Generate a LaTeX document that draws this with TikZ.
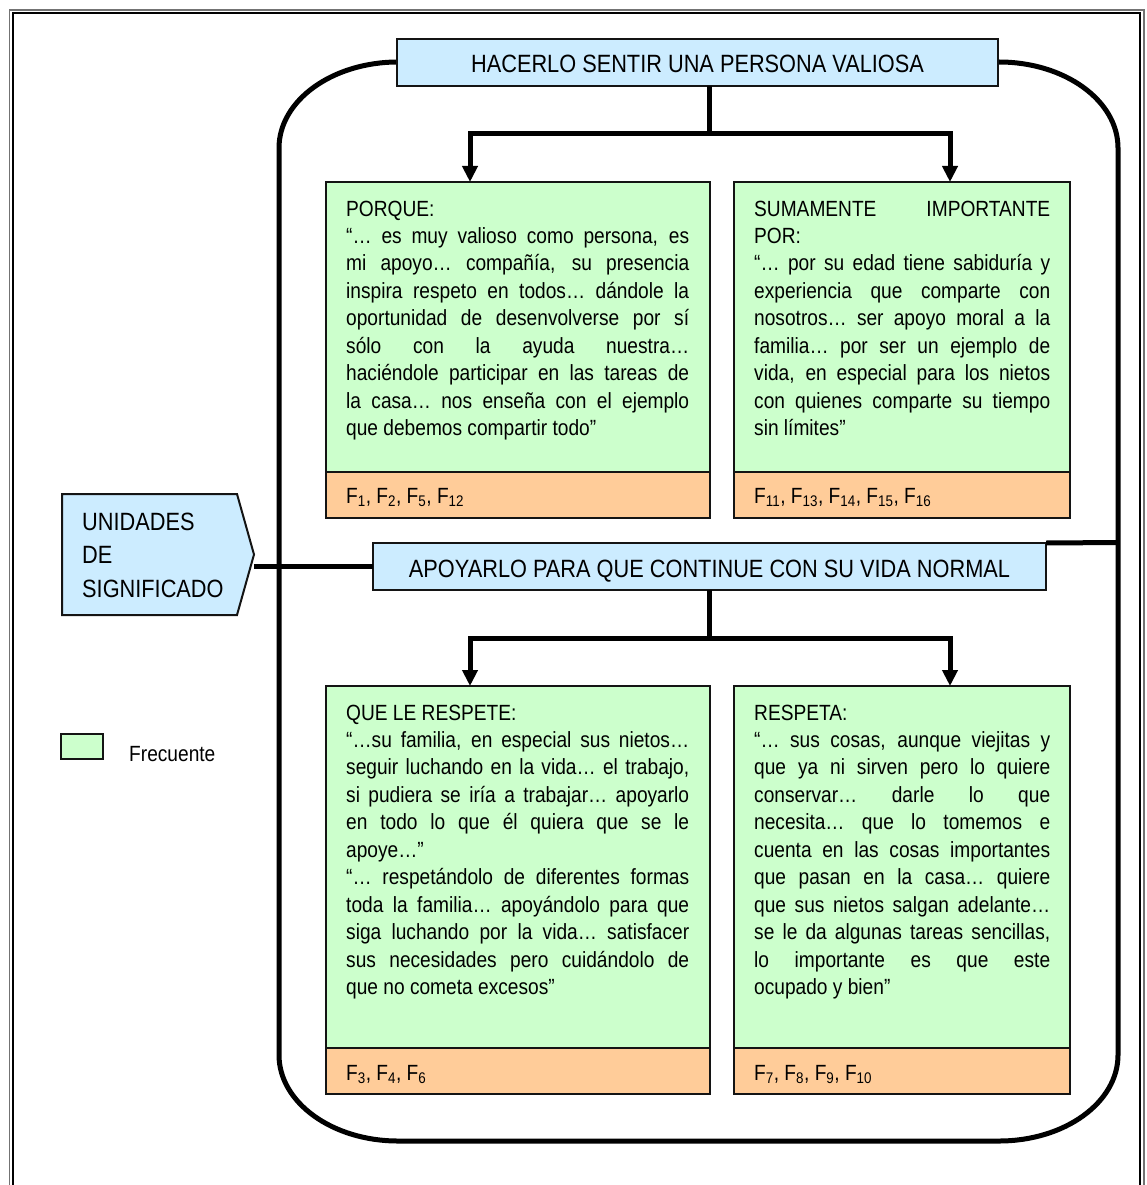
\documentclass[tikz,border=0pt]{standalone}
\usepackage{fontspec}
\setmainfont{Liberation Sans}[FakeStretch=0.87]
\usetikzlibrary{arrows.meta}
\definecolor{boxblue}{HTML}{CCECFF}
\definecolor{boxgreen}{HTML}{CCFFCC}
\definecolor{boxorange}{HTML}{FFCC99}
\definecolor{edge}{HTML}{141414}
\newcommand\bodyfont{\fontsize{22}{27.45}\selectfont}
\newcommand\headfont{\fontsize{25}{33.5}\selectfont}
\hyphenpenalty=10000
\exhyphenpenalty=10000
\tolerance=10000
\hbadness=10000
\begin{document}
\begin{tikzpicture}[x=1pt,y=-1pt,
  panel/.style={draw=edge, line width=2pt, inner sep=0pt, outer sep=0pt},
  headbox/.style={panel, fill=boxblue, font=\headfont, text height=21pt, text depth=0pt},
  quotebox/.style={panel, fill=boxgreen, anchor=north west, minimum width=384pt, minimum height=290pt},
  quotebox2/.style={quotebox, minimum width=336pt},
  codebox/.style={panel, fill=boxorange, anchor=north west, minimum width=384pt, minimum height=46pt},
  codebox2/.style={codebox, minimum width=336pt},
  quote/.style={anchor=base west, inner sep=0pt, text width=343pt, align=justify, font=\bodyfont},
  quote2/.style={quote, text width=296pt},
  codes/.style={anchor=base west, inner sep=0pt, font=\bodyfont},
  conn/.style={line width=5pt, draw=black},
  arr/.style={conn, -{Triangle[width=15pt,length=16pt]}}
]
\useasboundingbox (0,0) rectangle (1147,1185);

% page frame (open at the bottom)
\draw[line width=1.6pt, color=black!55] (9.5,10) rectangle (1143.8,1220);
\draw[line width=2pt, color=black] (12.5,13) rectangle (1140.3,1220);

% rounded container with elliptical corners
\draw[line width=5pt] (398,62) -- (999,62)
  .. controls (1064.7,62) and (1118,100.5) .. (1118,148)
  -- (1118,1055)
  .. controls (1118,1102.5) and (1064.7,1141) .. (999,1141)
  -- (398,1141)
  .. controls (332.3,1141) and (279,1102.5) .. (279,1055)
  -- (279,148)
  .. controls (279,100.5) and (332.3,62) .. (398,62) -- cycle;

% branch points
\coordinate (j1) at (709,134);
\coordinate (j1l) at (470,134);
\coordinate (j1r) at (950,134);
\coordinate (j2) at (709,638);
\coordinate (j2l) at (470,638);
\coordinate (j2r) at (950,638);
\coordinate (rside) at (1118,542.5);
\coordinate (unitip) at (254,566.5);

% heading boxes
\node[headbox, minimum width=601pt, minimum height=47pt] (h1) at (697.5,62.5)
  {HACERLO SENTIR UNA PERSONA VALIOSA};
\node[headbox, minimum width=673pt, minimum height=47pt] (h2) at (709.5,566.5)
  {APOYARLO PARA QUE CONTINUE CON SU VIDA NORMAL};

% quote boxes with their source bands
\node[quotebox] (b1) at (326,182) {};
\node[codebox] (c1) at (326,472) {};
\node[quotebox2] (b2) at (734,182) {};
\node[codebox2] (c2) at (734,472) {};
\node[quotebox, minimum height=362pt] (b3) at (326,686) {};
\node[codebox] (c3) at (326,1048) {};
\node[quotebox2, minimum height=362pt] (b4) at (734,686) {};
\node[codebox2] (c4) at (734,1048) {};

% connectors
\draw[conn] (h1.south -| j1) -- (j1);
\draw[arr] (j1) -| (j1l |- b1.north);
\draw[arr] (j1) -| (j1r |- b2.north);
\draw[conn] (h2.south -| j2) -- (j2);
\draw[arr] (j2) -| (j2l |- b3.north);
\draw[arr] (j2) -| (j2r |- b4.north);
\draw[conn] (h2.north east) -- (rside);
\draw[conn] (unitip) -- (h2.west);

% quote texts
\node[quote] (q1) at (346,216) {PORQUE:\\
“… es muy valioso como persona, es\linebreak
mi apoyo… compañía, su presencia\linebreak
inspira respeto en todos… dándole la\linebreak
oportunidad de desenvolverse por sí\linebreak
sólo con la ayuda nuestra…\linebreak
haciéndole participar en las tareas de\linebreak
la casa… nos enseña con el ejemplo\linebreak
que debemos compartir todo”};
\node[quote2] (q2) at (754,216) {SUMAMENTE IMPORTANTE\linebreak
POR:\\
“… por su edad tiene sabiduría y\linebreak
experiencia que comparte con\linebreak
nosotros… ser apoyo moral a la\linebreak
familia… por ser un ejemplo de\linebreak
vida, en especial para los nietos\linebreak
con quienes comparte su tiempo\linebreak
sin límites”};
\node[quote] (q3) at (346,720) {QUE LE RESPETE:\\
“…su familia, en especial sus nietos…\linebreak
seguir luchando en la vida… el trabajo,\linebreak
si pudiera se iría a trabajar… apoyarlo\linebreak
en todo lo que él quiera que se le\linebreak
apoye…”\\
“… respetándolo de diferentes formas\linebreak
toda la familia… apoyándolo para que\linebreak
siga luchando por la vida… satisfacer\linebreak
sus necesidades pero cuidándolo de\linebreak
que no cometa excesos”};
\node[quote2] (q4) at (754,720) {RESPETA:\\
“… sus cosas, aunque viejitas y\linebreak
que ya ni sirven pero lo quiere\linebreak
conservar… darle lo que\linebreak
necesita… que lo tomemos e\linebreak
cuenta en las cosas importantes\linebreak
que pasan en la casa… quiere\linebreak
que sus nietos salgan adelante…\linebreak
se le da algunas tareas sencillas,\linebreak
lo importante es que este\linebreak
ocupado y bien”};

% source codes
\node[codes] (f1) at (346,503) {F\textsubscript{1}, F\textsubscript{2}, F\textsubscript{5}, F\textsubscript{12}};
\node[codes] (f2) at (754,503) {F\textsubscript{11}, F\textsubscript{13}, F\textsubscript{14}, F\textsubscript{15}, F\textsubscript{16}};
\node[codes] (f3) at (346,1080) {F\textsubscript{3}, F\textsubscript{4}, F\textsubscript{6}};
\node[codes] (f4) at (754,1080) {F\textsubscript{7}, F\textsubscript{8}, F\textsubscript{9}, F\textsubscript{10}};

% side label
\draw[panel, fill=boxblue] (62,494) -- (237,494) -- (254,554.5) -- (237,615) -- (62,615) -- cycle;
\node[anchor=base west, inner sep=0pt, text width=170pt, align=left, font=\headfont] (uni) at (82,530)
  {UNIDADES\\DE\\SIGNIFICADO};

% legend
\node[panel, fill=boxgreen, anchor=north west, minimum width=42pt, minimum height=25pt] (leg) at (61,734) {};
\node[codes] (legt) at (129,761) {Frecuente};
\end{tikzpicture}
\end{document}
